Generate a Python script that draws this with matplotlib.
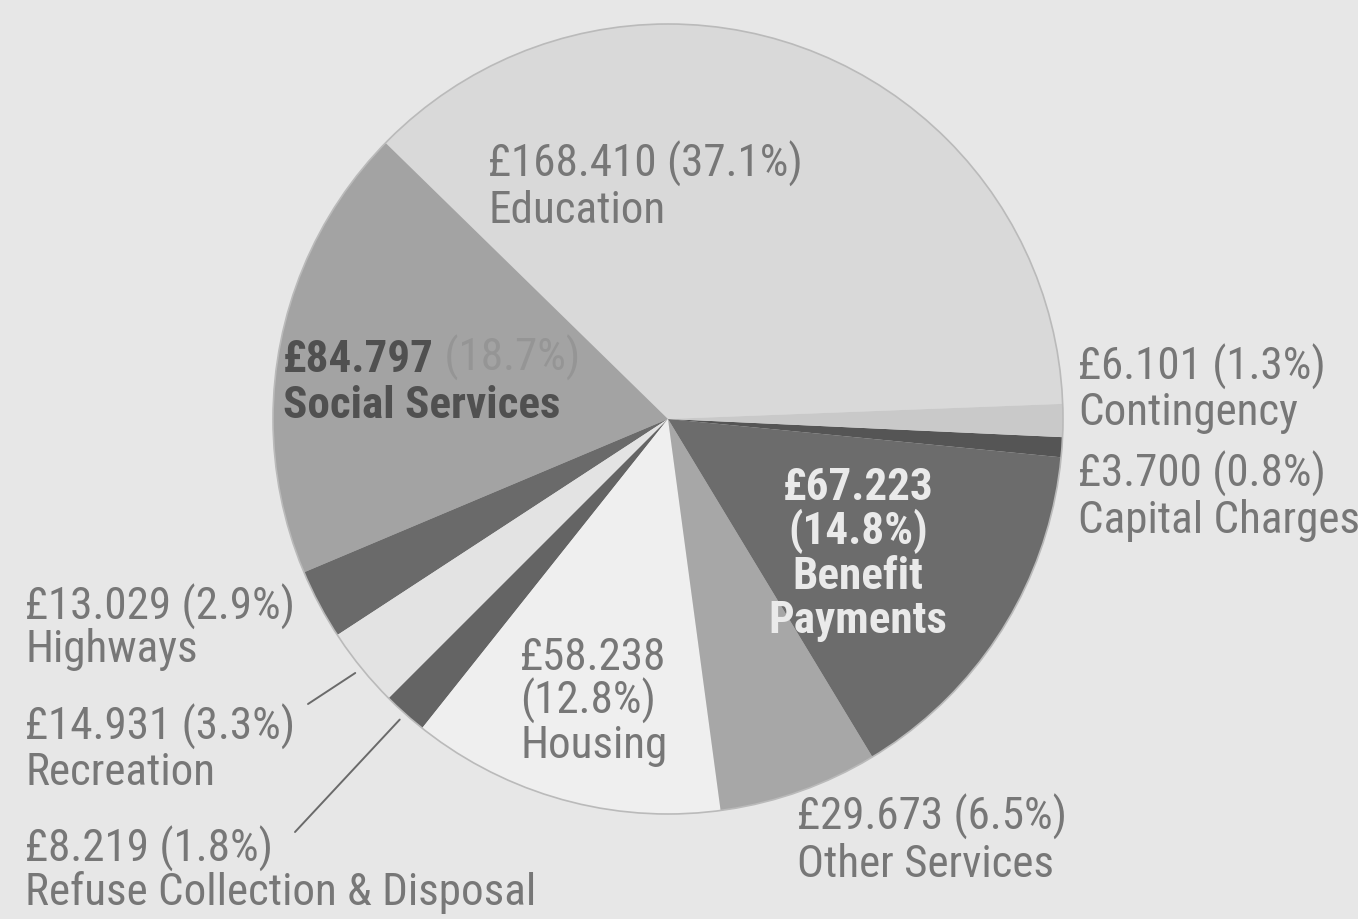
import numpy as np
import matplotlib
matplotlib.use("Agg")
import matplotlib.pyplot as plt
from matplotlib import font_manager as fm
from matplotlib.patches import Circle

# spending by service, £ million
categories = ["Education", "Social Services", "Highways", "Recreation",
              "Refuse Collection & Disposal", "Housing", "Other Services",
              "Benefit Payments", "Capital Charges", "Contingency"]
amounts = [168.410, 84.797, 13.029, 14.931, 8.219, 58.238,
           29.673, 67.223, 3.700, 6.101]
percents = [37.1, 18.7, 2.9, 3.3, 1.8, 12.8, 6.5, 14.8, 0.8, 1.3]

colors = ["#d9d9d9", "#a3a3a3", "#6a6a6a", "#e3e3e3", "#646464",
          "#efefef", "#a7a7a7", "#6c6c6c", "#555555", "#c9c9c9"]

W, H = 1358, 920
CENTER = (668, H - 420)
RADIUS = 395

# pick a condensed face if one is there
fonts = fm.fontManager.ttflist
names = {f.name for f in fonts}
STRETCH = "normal"
if "Roboto Condensed" in names:
    FONT, SIZE = "Roboto Condensed", 32.5
elif "Liberation Sans Narrow" in names:
    FONT, SIZE = "Liberation Sans Narrow", 32
elif any(f.name == "DejaVu Sans" and f.stretch == "condensed" for f in fonts):
    FONT, SIZE, STRETCH = "DejaVu Sans", 29, "condensed"
else:
    FONT, SIZE = "DejaVu Sans", 25
plt.rcParams["font.family"] = [FONT, "DejaVu Sans"]
plt.rcParams["font.stretch"] = STRETCH

TEXT = "#777777"

fig = plt.figure(figsize=(W / 100, H / 100), dpi=100, facecolor="#e7e7e7")
ax = fig.add_axes([0, 0, 1, 1])

wedges, _ = ax.pie(amounts, colors=colors, startangle=2.2, counterclock=True,
                   center=CENTER, radius=RADIUS, frame=True,
                   wedgeprops=dict(linewidth=0))
ax.set_xlim(0, W)
ax.set_ylim(0, H)
ax.set_aspect("equal")
ax.axis("off")
ax.add_patch(Circle(CENTER, RADIUS, fill=False, edgecolor="#bababa", lw=1.2, zorder=3))


def label_lines(i):
    amt = f"£{amounts[i]:.3f}"
    pct = f"({percents[i]}%)"
    name = categories[i]
    if name == "Benefit Payments":
        return [amt, pct, "Benefit", "Payments"]
    if name == "Housing":
        return [amt, pct, name]
    return [f"{amt} {pct}", name]


# x, first baseline (pixels from top), line pitch, alignment
label_pos = {
    "Education": (488, 177, 46, "left"),
    "Social Services": (283, 372, 46, "left"),
    "Highways": (25, 620, 42, "left"),
    "Recreation": (25, 740, 45, "left"),
    "Refuse Collection & Disposal": (25, 862, 43, "left"),
    "Housing": (520, 670, 44, "left"),
    "Other Services": (797, 830, 47, "left"),
    "Benefit Payments": (858, 500, 44.5, "center"),
    "Contingency": (1078, 380, 45, "left"),
    "Capital Charges": (1078, 487, 46, "left"),
}

for i, name in enumerate(categories):
    x, y0, pitch, ha = label_pos[name]
    lines = label_lines(i)
    if name == "Social Services":
        t1 = ax.text(x, H - y0, f"£{amounts[i]:.3f}", fontsize=SIZE, fontweight="bold",
                     color="#505050", ha="left", va="baseline", zorder=5)
        ax.annotate(f" ({percents[i]}%)", xy=(1, 0), xycoords=t1, fontsize=SIZE,
                    color="#959595", ha="left", va="bottom", zorder=5)
        ax.text(x, H - y0 - pitch, name, fontsize=SIZE, fontweight="bold",
                color="#505050", ha="left", va="baseline", zorder=5)
        continue
    if name == "Benefit Payments":
        color, weight = "#eaeaea", "bold"
    else:
        color, weight = TEXT, "normal"
    for k, line in enumerate(lines):
        ax.text(x, H - y0 - k * pitch, line, fontsize=SIZE, fontweight=weight,
                color=color, ha=ha, va="baseline", zorder=5)

# leader lines for the two thin slices on the lower left
leaders = {"Recreation": (308, 705), "Refuse Collection & Disposal": (295, 833)}
for name, (lx, ly) in leaders.items():
    w = wedges[categories.index(name)]
    mid = np.deg2rad((w.theta1 + w.theta2) / 2)
    ex = CENTER[0] + 1.02 * RADIUS * np.cos(mid)
    ey = CENTER[1] + 1.02 * RADIUS * np.sin(mid)
    ax.annotate("", xy=(ex, ey), xytext=(lx, H - ly),
                arrowprops=dict(arrowstyle="-", color="#6a6a6a", lw=1.4,
                                shrinkA=0, shrinkB=0))

fig.savefig("out.png", dpi=100, facecolor=fig.get_facecolor())
